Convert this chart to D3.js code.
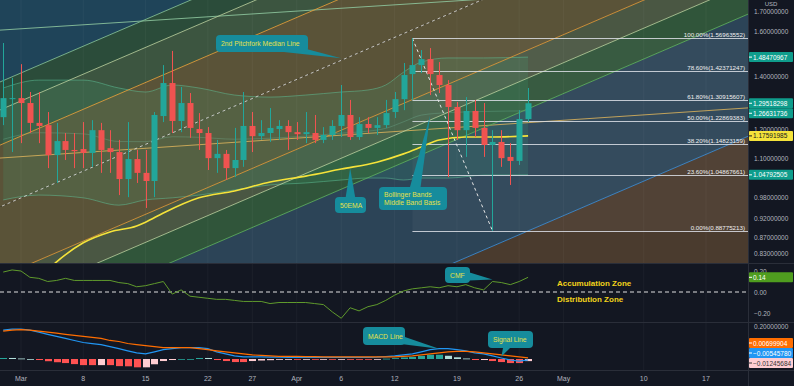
<!DOCTYPE html>
<html>
<head>
<meta charset="utf-8">
<script src="https://cdn.jsdelivr.net/npm/d3@7"></script>
<style>
  body { margin: 0; background: #131722; }
  svg { display: block; font-family: "Liberation Sans", Arial, sans-serif; }
</style>
</head>
<body>
<svg id="chart"></svg>
<script>
// ---- candles, daily from Feb 27 2021 ----
var firstDay = "2021-02-27";
var opens = [1.243,1.311,1.315,1.296,1.222,1.214,1.111,1.158,1.128,1.131,
  1.118,1.196,1.134,1.121,1.035,1.098,1.054,1.029,1.247,1.375,
  1.229,1.296,1.200,1.186,1.101,1.115,1.069,1.095,1.211,1.175,
  1.186,1.200,1.211,1.189,1.182,1.186,1.162,1.179,1.211,1.251,
  1.172,1.218,1.204,1.214,1.262,1.311,1.412,1.450,1.476,1.408,
  1.367,1.281,1.196,1.266,1.204,1.145,1.155,1.105,1.092,1.236];
var highs = [1.548,1.396,1.454,1.339,1.339,1.262,1.222,1.186,1.186,1.225,
  1.232,1.222,1.196,1.162,1.225,1.128,1.128,1.262,1.450,1.512,
  1.359,1.335,1.258,1.207,1.162,1.128,1.204,1.339,1.262,1.232,
  1.277,1.232,1.232,1.225,1.262,1.251,1.207,1.232,1.367,1.308,
  1.243,1.243,1.243,1.308,1.339,1.459,1.56963552,1.516,1.525,1.463,
  1.387,1.300,1.319,1.308,1.296,1.196,1.196,1.151,1.269,1.355];
var lows = [1.214,1.121,1.151,1.186,1.151,1.069,1.023,1.095,1.069,1.069,
  1.073,1.054,1.054,0.987,0.981,1.023,0.950,0.981,1.225,1.186,
  1.189,1.169,1.128,1.063,1.054,1.032,1.041,1.073,1.121,1.162,
  1.155,1.162,1.128,1.162,1.151,1.151,1.151,1.162,1.172,1.162,
  1.162,1.186,1.179,1.204,1.240,1.269,1.308,1.416,1.327,1.335,
  1.041,1.162,1.105,1.172,1.105,0.88775213,1.073,1.017,1.079,1.225];
var closes = [1.315,1.315,1.296,1.222,1.211,1.111,1.158,1.128,1.124,1.118,
  1.196,1.128,1.121,1.035,1.098,1.054,1.029,1.251,1.375,1.229,
  1.296,1.204,1.186,1.101,1.115,1.069,1.095,1.211,1.175,1.186,
  1.204,1.211,1.189,1.182,1.189,1.162,1.179,1.211,1.251,1.172,
  1.218,1.204,1.214,1.258,1.311,1.408,1.450,1.476,1.412,1.367,
  1.281,1.196,1.266,1.204,1.145,1.155,1.101,1.092,1.236,1.29518298];

// ---- indicators ----
var emaDates = ["2021-03-04","2021-03-05","2021-03-08","2021-03-11","2021-03-14","2021-03-15","2021-03-17",
  "2021-03-21","2021-03-25","2021-03-29","2021-04-02","2021-04-06","2021-04-10","2021-04-13",
  "2021-04-15","2021-04-17","2021-04-20","2021-04-23","2021-04-27"];
var emaValues = [0.791,0.810,0.857,0.885,0.901,0.911,0.936,0.979,0.999,1.026,1.044,1.066,1.088,1.115,
  1.138,1.162,1.172,1.172,1.17591985];

var bbDates = ["2021-02-27","2021-03-03","2021-03-08","2021-03-12","2021-03-15","2021-03-18","2021-03-21",
  "2021-03-25","2021-03-29","2021-04-02","2021-04-06","2021-04-09","2021-04-11","2021-04-13",
  "2021-04-15","2021-04-18","2021-04-22","2021-04-27"];
var bbUpper = [1.355,1.387,1.387,1.355,1.339,1.367,1.355,1.327,1.319,1.327,1.339,1.347,1.367,1.420,
  1.463,1.481,1.481,1.48470967];
var bbLower = [0.973,0.987,0.979,0.958,0.973,0.979,0.987,1.002,1.017,1.023,1.032,1.038,1.038,1.032,
  1.038,1.038,1.047,1.04792505];

var cmfValues = [0.19,0.21,0.20,0.14,0.13,0.10,0.11,0.13,0.11,0.11,
  0.11,0.11,0.11,0.09,0.08,0.05,0.06,0.08,0.10,-0.02,
  0.02,-0.04,-0.05,-0.06,-0.07,-0.07,-0.08,-0.09,-0.09,-0.09,
  -0.11,-0.10,-0.10,-0.10,-0.10,-0.11,-0.12,-0.19,-0.25,-0.15,
  -0.18,-0.14,-0.12,-0.08,-0.03,0.01,0.03,0.04,0.05,0.04,
  0.06,0.05,0.07,0.04,0.02,0.10,0.09,0.07,0.10,0.14];

var macdValues = [0.170,0.176,0.176,0.170,0.158,0.145,0.133,0.121,0.109,0.097,
  0.091,0.085,0.073,0.061,0.048,0.036,0.030,0.042,0.055,0.061,
  0.067,0.067,0.067,0.061,0.042,0.030,0.018,0.012,0.012,0.012,
  0.011,0.011,0.010,0.010,0.010,0.010,0.010,0.010,0.010,0.010,
  0.010,0.010,0.011,0.014,0.018,0.024,0.030,0.042,0.055,0.061,
  0.061,0.055,0.048,0.036,0.030,0.018,0.006,-0.006,-0.012,-0.0054578];
var signalValues = [0.164,0.170,0.173,0.170,0.164,0.158,0.152,0.145,0.139,0.133,
  0.127,0.121,0.109,0.103,0.091,0.085,0.079,0.073,0.067,0.067,
  0.067,0.067,0.061,0.055,0.048,0.042,0.036,0.030,0.024,0.021,
  0.018,0.016,0.015,0.015,0.014,0.014,0.013,0.013,0.012,0.012,
  0.012,0.012,0.012,0.012,0.013,0.015,0.018,0.024,0.030,0.036,
  0.042,0.045,0.045,0.042,0.036,0.030,0.024,0.018,0.012,0.00699904];

// ---- fibonacci retracement ----
var fibStart = "2021-04-14", fibEnd = "2021-04-23";
var fibLevels = [1, 0.786, 0.618, 0.5, 0.382, 0.236, 0];
var fibPrices = [1.56963552, 1.42371247, 1.30915607, 1.22869383, 1.14823159, 1.04867661, 0.88775213];

// ---- pitchfork / trend lines: price at two anchor dates ----
var pfDates = ["2021-02-27", "2021-04-12"];
var pfLines = [[1.385,2.278],[1.275,2.097],[1.149,1.891],[0.957,1.574],[0.778,1.280],[0.716,1.178],[0.653,1.075],[0.455,0.749]];
var pfLineColors = ["#86c39a","#b7cf9c","#e8a33c","#e6e6e6","#e39b3a","#b7cf9c","#5fb35f","#3d8fd8"];
var zoneColors = ["#1f4459","#2b4c3a","#3c5540","#5a5338","#5a5338","#4a5743","#30553a","#2c4457","#4a3b2e"];
var trendLines = [[1.609,1.733],[1.102,1.191]];
var trendColors = ["#8fc9a0","#d9b25a"];

// ---- axes ----
var priceTicks = [1.7,1.6,1.4,1.2,1.1,0.98,0.92,0.87,0.83];
var cmfTicks = [0.2, 0, -0.2];
var timeTickDates = ["2021-03-01","2021-03-08","2021-03-15","2021-03-22","2021-03-27","2021-04-01",
  "2021-04-06","2021-04-12","2021-04-19","2021-04-26","2021-05-01","2021-05-10","2021-05-17"];
var timeTickLabels = ["Mar","8","15","22","27","Apr","6","12","19","26","May","10","17"];

var tagValues = [1.48470967, 1.29518298, 1.26631736, 1.17591985, 1.04792505];
var tagColors = ["#0f9d8c","#0f9d8c","#0f9d8c","#f5e33a","#0f9d8c"];

var w = 794, h = 386;
var plotRight = 748;
var mainP = {top: 0, bottom: 263};
var cmfP = {top: 264, bottom: 322};
var macdP = {top: 323, bottom: 370};

var parse = d3.utcParse("%Y-%m-%d");
var day0 = parse(firstDay);
var dates = opens.map(function(d, i) { return d3.utcDay.offset(day0, i); });

var x = d3.scaleUtc().domain([parse("2021-03-01"), parse("2021-05-17")]).range([21, 706]);
var y = d3.scaleLog().domain([1.758, 0.8073]).range([mainP.top, mainP.bottom]);
var yCmf = d3.scaleLinear().domain([0.2, -0.2]).range([271, 313]);
var yMacd = d3.scaleLinear().domain([0.2, 0]).range([325, 359]);

var svg = d3.select("#chart").attr("width", w).attr("height", h);
var defs = svg.append("defs");
function clip(id, top, bottom) {
  defs.append("clipPath").attr("id", id).append("rect")
    .attr("x", 0).attr("y", top).attr("width", plotRight).attr("height", bottom - top);
}
clip("clipMain", mainP.top, mainP.bottom);
clip("clipCmf", cmfP.top, cmfP.bottom);
clip("clipMacd", macdP.top, macdP.bottom);

svg.append("rect").attr("width", w).attr("height", h).attr("fill", "#131722");

var gMain = svg.append("g").attr("clip-path", "url(#clipMain)");

// pitchfork zones
var ax1 = x(parse(pfDates[0])), ax2 = x(parse(pfDates[1]));
function lineY(l, xp) {
  var y1 = y(l[0]), y2 = y(l[1]);
  return y1 + (y2 - y1) * (xp - ax1) / (ax2 - ax1);
}
var xl = -20, xr = plotRight + 20;
zoneColors.forEach(function(c, i) {
  var topL = i === 0 ? null : pfLines[i - 1];
  var botL = i === pfLines.length ? null : pfLines[i];
  var pts = [
    [xl, topL ? lineY(topL, xl) : -3000], [xr, topL ? lineY(topL, xr) : -3000],
    [xr, botL ? lineY(botL, xr) : 3000], [xl, botL ? lineY(botL, xl) : 3000]
  ];
  gMain.append("polygon").attr("points", pts.join(" ")).attr("fill", c);
});

// vertical grid
timeTickDates.forEach(function(d) {
  svg.append("line").attr("x1", x(parse(d))).attr("x2", x(parse(d)))
    .attr("y1", 0).attr("y2", macdP.bottom)
    .attr("stroke", "#ffffff").attr("stroke-opacity", 0.04);
});

// fib background
var fx1 = x(parse(fibStart));
gMain.append("rect").attr("x", fx1).attr("y", y(fibPrices[0]))
  .attr("width", plotRight - fx1).attr("height", y(fibPrices[6]) - y(fibPrices[0]))
  .attr("fill", "#ffffff").attr("fill-opacity", 0.04);

// bollinger bands
var bb = bbDates.map(function(d, i) { return {date: parse(d), up: bbUpper[i], lo: bbLower[i]}; });
gMain.append("path").datum(bb)
  .attr("d", d3.area().curve(d3.curveMonotoneX)
    .x(function(d) { return x(d.date); })
    .y0(function(d) { return y(d.lo); })
    .y1(function(d) { return y(d.up); }))
  .attr("fill", "#3fae7c").attr("fill-opacity", 0.16);
["up", "lo"].forEach(function(k) {
  gMain.append("path").datum(bb)
    .attr("d", d3.line().curve(d3.curveMonotoneX)
      .x(function(d) { return x(d.date); })
      .y(function(d) { return y(d[k]); }))
    .attr("fill", "none").attr("stroke", "#5fc39a").attr("stroke-opacity", 0.5).attr("stroke-width", 1);
});
gMain.append("path").datum(bb)
  .attr("d", d3.line().curve(d3.curveMonotoneX)
    .x(function(d) { return x(d.date); })
    .y(function(d) { return y((d.up + d.lo) / 2); }))
  .attr("fill", "none").attr("stroke", "#7fd0b0").attr("stroke-opacity", 0.25).attr("stroke-width", 1);

// trend + pitchfork lines
trendLines.forEach(function(l, i) {
  gMain.append("line").attr("x1", xl).attr("y1", lineY(l, xl)).attr("x2", xr).attr("y2", lineY(l, xr))
    .attr("stroke", trendColors[i]).attr("stroke-width", 1).attr("stroke-opacity", 0.85);
});
pfLines.forEach(function(l, i) {
  gMain.append("line").attr("x1", xl).attr("y1", lineY(l, xl)).attr("x2", xr).attr("y2", lineY(l, xr))
    .attr("stroke", pfLineColors[i]).attr("stroke-width", 1)
    .attr("stroke-dasharray", i === 3 ? "3,3" : null)
    .attr("stroke-opacity", i === 3 ? 0.8 : 0.85);
});

// fib lines
fibLevels.forEach(function(lv, i) {
  var yy = Math.round(y(fibPrices[i])) + 0.5;
  gMain.append("line").attr("x1", fx1).attr("x2", plotRight).attr("y1", yy).attr("y2", yy)
    .attr("stroke", "#dcdfe6").attr("stroke-width", 1).attr("stroke-opacity", 0.85);
  gMain.append("text").attr("x", plotRight - 3).attr("y", yy - 2)
    .attr("text-anchor", "end").attr("font-size", 6.2).attr("fill", "#f0f0f0")
    .text((lv * 100).toFixed(2) + "%(" + fibPrices[i].toFixed(8) + ")");
});
gMain.append("line")
  .attr("x1", fx1).attr("y1", y(fibPrices[0]))
  .attr("x2", x(parse(fibEnd))).attr("y2", y(fibPrices[6]))
  .attr("stroke", "#e6e6e6").attr("stroke-dasharray", "3,3").attr("stroke-width", 1);

// EMA 50
gMain.append("path").datum(emaDates.map(function(d, i) { return [parse(d), emaValues[i]]; }))
  .attr("d", d3.line().curve(d3.curveMonotoneX)
    .x(function(d) { return x(d[0]); }).y(function(d) { return y(d[1]); }))
  .attr("fill", "none").attr("stroke", "#f5e33a").attr("stroke-width", 1.6);

// candles
var up = "#22a69a", down = "#f05350";
var candles = gMain.selectAll("g.candle").data(dates).enter().append("g").attr("class", "candle");
candles.append("line")
  .attr("x1", function(d) { return Math.round(x(d)) + 0.5; })
  .attr("x2", function(d) { return Math.round(x(d)) + 0.5; })
  .attr("y1", function(d, i) { return y(highs[i]); })
  .attr("y2", function(d, i) { return y(lows[i]); })
  .attr("stroke", function(d, i) { return closes[i] >= opens[i] ? up : down; });
candles.append("rect")
  .attr("x", function(d) { return Math.round(x(d)) - 2.5; })
  .attr("width", 6)
  .attr("y", function(d, i) { return y(Math.max(opens[i], closes[i])); })
  .attr("height", function(d, i) { return Math.max(1, y(Math.min(opens[i], closes[i])) - y(Math.max(opens[i], closes[i]))); })
  .attr("fill", function(d, i) { return closes[i] >= opens[i] ? up : down; });

// ---- CMF panel ----
var gCmf = svg.append("g").attr("clip-path", "url(#clipCmf)");
gCmf.append("line").attr("x1", 0).attr("x2", plotRight).attr("y1", yCmf(0)).attr("y2", yCmf(0))
  .attr("stroke", "#e0e0e0").attr("stroke-dasharray", "4,3");
gCmf.append("path").datum(cmfValues)
  .attr("d", d3.line().x(function(d, i) { return x(dates[i]); }).y(function(d) { return yCmf(d); }))
  .attr("fill", "none").attr("stroke", "#5f9a2c").attr("stroke-width", 1);
svg.append("text").attr("x", 557).attr("y", yCmf(0.055)).attr("font-size", 8).attr("font-weight", "bold")
  .attr("fill", "#f2d21b").text("Accumulation Zone");
svg.append("text").attr("x", 557).attr("y", yCmf(-0.095)).attr("font-size", 8).attr("font-weight", "bold")
  .attr("fill", "#f2d21b").text("Distribution Zone");

// ---- MACD panel ----
var gMacd = svg.append("g").attr("clip-path", "url(#clipMacd)");
var hist = macdValues.map(function(m, i) { return m - signalValues[i]; });
gMacd.selectAll("rect.hist").data(hist).enter().append("rect").attr("class", "hist")
  .attr("x", function(d, i) { return Math.round(x(dates[i])) - 3; })
  .attr("width", 7)
  .attr("y", function(d) { return Math.min(yMacd(d), yMacd(0)); })
  .attr("height", function(d) { return Math.max(0.8, Math.abs(yMacd(d) - yMacd(0))); })
  .attr("fill", function(d, i) {
    var prev = i > 0 ? hist[i - 1] : d;
    if (d >= 0) return d >= prev ? "#26a69a" : "#b2dfdb";
    return d <= prev ? "#ff5252" : "#ffcdd2";
  });
gMacd.append("path").datum(macdValues)
  .attr("d", d3.line().x(function(d, i) { return x(dates[i]); }).y(function(d) { return yMacd(d); }))
  .attr("fill", "none").attr("stroke", "#2196f3").attr("stroke-width", 1.2);
gMacd.append("path").datum(signalValues)
  .attr("d", d3.line().x(function(d, i) { return x(dates[i]); }).y(function(d) { return yMacd(d); }))
  .attr("fill", "none").attr("stroke", "#ff6d00").attr("stroke-width", 1.2);

// ---- callouts ----
var callouts = [
  {lines: ["2nd Pitchfork Median Line"], box: [216, 35, 92, 17], date: "2021-04-06", v: 1.48, s: y},
  {lines: ["50EMA"], box: [335, 197, 31, 16], date: "2021-04-07", v: 1.069, s: y},
  {lines: ["Bollinger Bands", "Middle Band Basis"], box: [379, 187, 68, 23], date: "2021-04-16", v: 1.251, s: y},
  {lines: ["CMF"], box: [445, 267, 25, 16], date: "2021-04-23", v: 0.12, s: yCmf},
  {lines: ["MACD Line"], box: [363, 327, 42, 18], date: "2021-04-17", v: 0.06, s: yMacd},
  {lines: ["Signal Line"], box: [488, 331, 45, 17], date: "2021-04-24", v: 0.015, s: yMacd}
];
callouts.forEach(function(c) {
  var b = c.box, cx = b[0] + b[2] / 2, cy = b[1] + b[3] / 2;
  var tx = x(parse(c.date)), ty = c.s(c.v);
  var dx = tx - cx, dy = ty - cy, len = Math.sqrt(dx * dx + dy * dy);
  var px = -dy / len * 6, py = dx / len * 6;
  svg.append("path")
    .attr("d", "M" + (cx + px) + "," + (cy + py) + "L" + tx + "," + ty + "L" + (cx - px) + "," + (cy - py) + "Z")
    .attr("fill", "#168c9c");
  svg.append("rect").attr("x", b[0]).attr("y", b[1]).attr("width", b[2]).attr("height", b[3])
    .attr("rx", 4).attr("fill", "#168c9c");
  c.lines.forEach(function(t, j) {
    svg.append("text").attr("x", b[0] + 5)
      .attr("y", cy + (j - (c.lines.length - 1) / 2) * 8)
      .attr("dominant-baseline", "central").attr("font-size", 6.8).attr("fill", "#e5e04a").text(t);
  });
});

// ---- separators, right axis, time axis ----
svg.append("rect").attr("x", plotRight).attr("y", 0).attr("width", w - plotRight).attr("height", h).attr("fill", "#131722");
svg.append("rect").attr("x", 0).attr("y", macdP.bottom).attr("width", w).attr("height", h - macdP.bottom).attr("fill", "#131722");
[mainP.bottom + 0.5, cmfP.bottom + 0.5, macdP.bottom + 0.5].forEach(function(yy) {
  svg.append("line").attr("x1", 0).attr("x2", w).attr("y1", yy).attr("y2", yy).attr("stroke", "#2a2e39");
});
svg.append("line").attr("x1", plotRight + 0.5).attr("x2", plotRight + 0.5).attr("y1", 0).attr("y2", h).attr("stroke", "#2a2e39");

var axisColor = "#b2b5be";
priceTicks.forEach(function(p) {
  svg.append("text").attr("x", 754).attr("y", y(p)).attr("dominant-baseline", "central")
    .attr("font-size", 6.5).attr("fill", axisColor).text(p.toFixed(8));
});
svg.append("text").attr("x", 771).attr("y", 4).attr("text-anchor", "middle").attr("dominant-baseline", "central")
  .attr("font-size", 6).attr("fill", axisColor).text("USD");

cmfTicks.forEach(function(v) {
  svg.append("text").attr("x", 754).attr("y", yCmf(v)).attr("dominant-baseline", "central")
    .attr("font-size", 6.5).attr("fill", axisColor).text(v === 0 ? "0.00" : (v < 0 ? "\u2212" : "") + Math.abs(v).toFixed(2));
});
svg.append("text").attr("x", 754).attr("y", yMacd(0.2) + 1).attr("dominant-baseline", "central")
  .attr("font-size", 6.5).attr("fill", axisColor).text("0.20000000");

// price tags with overlap resolution
function tags(items, maxY) {
  items.sort(function(a, b) { return a.y - b.y; });
  for (var i = 1; i < items.length; i++) items[i].y = Math.max(items[i].y, items[i - 1].y + 10);
  if (maxY !== undefined) {
    items[items.length - 1].y = Math.min(items[items.length - 1].y, maxY);
    for (var j = items.length - 2; j >= 0; j--) items[j].y = Math.min(items[j].y, items[j + 1].y - 10);
  }
  items.forEach(function(t) {
    svg.append("rect").attr("x", plotRight + 1).attr("y", t.y - 5).attr("width", 44).attr("height", 10)
      .attr("rx", 1).attr("fill", t.color);
    svg.append("line").attr("x1", plotRight + 1).attr("x2", plotRight + 4).attr("y1", t.y).attr("y2", t.y)
      .attr("stroke", t.text);
    svg.append("text").attr("x", 753).attr("y", t.y).attr("dominant-baseline", "central")
      .attr("font-size", 6.5).attr("fill", t.text).text(t.label);
  });
}
tags(tagValues.map(function(v, i) {
  return {y: y(v), color: tagColors[i], text: tagColors[i] === "#f5e33a" ? "#131722" : "#ffffff", label: v.toFixed(8)};
}));
tags([{y: yCmf(cmfValues[cmfValues.length - 1]), color: "#4f9d1f", text: "#ffffff",
  label: cmfValues[cmfValues.length - 1].toFixed(2)}]);
var lastM = macdValues[macdValues.length - 1], lastS = signalValues[signalValues.length - 1];
tags([
  {y: yMacd(lastS), color: "#ff6d00", text: "#ffffff", label: lastS.toFixed(8)},
  {y: yMacd(lastM), color: "#2196f3", text: "#ffffff", label: "\u2212" + Math.abs(lastM).toFixed(8)},
  {y: yMacd(lastM - lastS), color: "#ffcdd2", text: "#333333", label: "\u2212" + Math.abs(lastM - lastS).toFixed(8)}
], 363);

timeTickDates.forEach(function(d, i) {
  svg.append("text").attr("x", x(parse(d))).attr("y", 378).attr("text-anchor", "middle")
    .attr("dominant-baseline", "central").attr("font-size", 7).attr("fill", axisColor).text(timeTickLabels[i]);
});
</script>
</body>
</html>
